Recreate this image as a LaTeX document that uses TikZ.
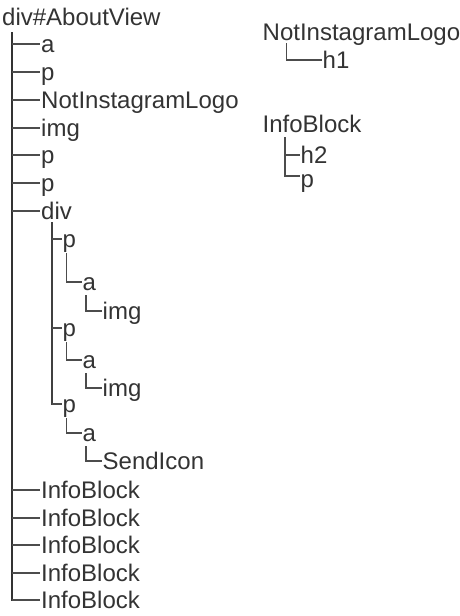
\documentclass[tikz,border=0pt]{standalone}
\usepackage{fontspec}
\setmainfont{Liberation Sans}
\usetikzlibrary{positioning,calc}

\begin{document}
\begin{tikzpicture}[x=1pt,y=-1pt,
    elem/.style={anchor=west, inner sep=0pt, inner xsep=1pt, text height=16pt, text depth=0pt,
      text=black!80, font=\fontsize{24}{28}\selectfont},
    trunk/.style={line width=2.6pt, draw=black!80},
    subtrunk/.style={line width=2pt, draw=black!75},
    branch/.style={line width=1.3pt, draw=black!70}]
  \useasboundingbox (0,0) rectangle (460,616);

  % component tree of the view
  \node[elem] (root) at (1,17) {div\#AboutView};
  \foreach \name/\y/\txt in {a/44/a, p1/72/p, logo1/100/NotInstagramLogo, img/128/img,
      p2/155/p, p3/183/p, div/211/div, ib1/490/InfoBlock, ib2/518/InfoBlock,
      ib3/545/InfoBlock, ib4/573/InfoBlock, ib5/600/InfoBlock}
    \node[elem] (\name) at (40,\y) {\txt};
  \coordinate (top) at ($(root.south west)+(11,7)$);
  \draw[trunk] (top) -- ($(top |- ib5.west)+(0,0.6)$);
  \foreach \name in {a,p1,logo1,img,p2,p3,div,ib1,ib2,ib3,ib4,ib5}
    \draw[branch] (top |- \name.west) -- (\name.west);

  % children of div
  \node[elem] (dp1) at (61.5,239) {p};
  \node[elem] (dp2) at (61.5,328) {p};
  \node[elem] (dp3) at (61.5,404) {p};
  \coordinate (dtop) at ($(div.south west)+(12,3)$);
  \draw[subtrunk] (dtop) -- ($(dtop |- dp3.west)+(0,0.6)$);
  \foreach \name in {dp1,dp2,dp3}
    \draw[branch] (dtop |- \name.west) -- (\name.west);

  \node[elem] (da1) at (81.5,282) {a};
  \node[elem] (da2) at (81.5,360) {a};
  \node[elem] (da3) at (81.5,433) {a};
  \node[elem] (di1) at (101.5,311) {img};
  \node[elem] (di2) at (101.5,388) {img};
  \node[elem] (di3) at (101.5,461) {SendIcon};
  \foreach \i in {1,2,3} {
    \draw[branch] ($(dp\i.south west)+(5,6)$) |- (da\i.west);
    \draw[branch] ($(da\i.south west)+(4.5,5)$) |- (di\i.west);
  }

  % NotInstagramLogo
  \node[elem] (logo) at (261.5,32) {NotInstagramLogo};
  \node[elem] (h1) at (321.5,60) {h1};
  \draw[branch] ($(logo.south west)+(25,3)$) |- (h1.west);

  % InfoBlock
  \node[elem] (info) at (261.5,124) {InfoBlock};
  \node[elem] (h2) at (299.5,155) {h2};
  \node[elem] (ip) at (299.5,179) {p};
  \coordinate (itop) at ($(info.south west)+(23.5,5)$);
  \draw[branch] (itop) |- ([yshift=3pt]ip.west);
  \draw[branch] (itop |- h2.west) -- (h2.west);
\end{tikzpicture}
\end{document}
